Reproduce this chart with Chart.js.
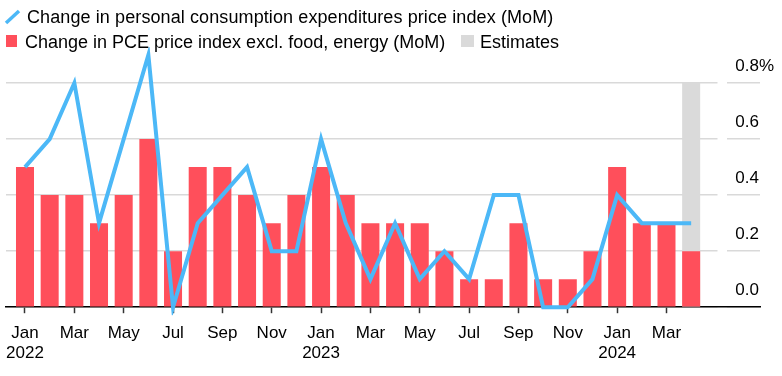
<!DOCTYPE html>
<html><head><meta charset="utf-8">
<script src="https://cdn.jsdelivr.net/npm/chart.js@4.4.1/dist/chart.umd.min.js"></script>
<style>
html,body{margin:0;padding:0;background:#fff;}
#wrap{position:relative;width:782px;height:376px;font-family:"Liberation Sans",Arial,sans-serif;color:#000;overflow:hidden;}
#c{position:absolute;left:0;top:0;}
.lg{position:absolute;font-size:18px;line-height:20px;white-space:nowrap;}
.sw{position:absolute;}
</style></head><body>
<div id="wrap">
<canvas id="c" width="782" height="376"></canvas>
<svg class="sw" style="left:4px;top:9px" width="18" height="16"><line x1="2" y1="14" x2="15" y2="2" stroke="#4cb8f7" stroke-width="3.5"/></svg>
<div class="lg" style="left:27px;top:7px;letter-spacing:0.1px">Change in personal consumption expenditures price index (MoM)</div>
<div class="sw" style="left:6px;top:35px;width:11px;height:12px;background:#ff4f5b"></div>
<div class="lg" style="left:25px;top:32px">Change in PCE price index excl. food, energy (MoM)</div>
<div class="sw" style="left:461px;top:35px;width:13px;height:12px;background:#dadada"></div>
<div class="lg" style="left:480px;top:32px">Estimates</div>
</div>
<script>
// ---- data ----
const categories = ['Jan 2022','Feb 2022','Mar 2022','Apr 2022','May 2022','Jun 2022','Jul 2022','Aug 2022','Sep 2022','Oct 2022','Nov 2022','Dec 2022',
  'Jan 2023','Feb 2023','Mar 2023','Apr 2023','May 2023','Jun 2023','Jul 2023','Aug 2023','Sep 2023','Oct 2023','Nov 2023','Dec 2023',
  'Jan 2024','Feb 2024','Mar 2024','Apr 2024'];
const headlinePCE = [0.5,0.6,0.8,0.3,0.6,0.9,0.0,0.3,0.4,0.5,0.2,0.2,
  0.6,0.3,0.1,0.3,0.1,0.2,0.1,0.4,0.4,0.0,0.0,0.1,
  0.4,0.3,0.3,0.3];
const corePCE = [0.5,0.4,0.4,0.3,0.4,0.6,0.2,0.5,0.5,0.4,0.3,0.4,
  0.5,0.4,0.3,0.3,0.3,0.2,0.1,0.1,0.3,0.1,0.1,0.2,
  0.5,0.3,0.3,0.2];
const estimates = [null,null,null,null,null,null,null,null,null,null,null,null,
  null,null,null,null,null,null,null,null,null,null,null,null,
  null,null,null,0.8];
const yTicks = [0, 0.2, 0.4, 0.6, 0.8];
const yTickLabels = ['0.0','0.2','0.4','0.6','0.8%'];
const xTickIndex = [0,2,4,6,8,10,12,14,16,18,20,22,24,26];

const BLUE = '#4cb8f7', RED = '#ff4f5b', GRAY = '#dadada';
const pts = arr => arr.map((v,i)=>({x:i, y:v}));
function xLabel(i){
  const [m, y] = categories[i].split(' ');
  return m === 'Jan' ? [m, y] : m;
}

Chart.defaults.font.family = '"Liberation Sans", Arial, sans-serif';
Chart.defaults.font.size = 17;
Chart.defaults.color = '#000';

new Chart(document.getElementById('c'), {
  data: {
    datasets: [
      {type:'line', label:'Change in personal consumption expenditures price index (MoM)', data: pts(headlinePCE),
        borderColor: BLUE, borderWidth: 4, pointRadius: 0, tension: 0, order: 0, clip: 8},
      {type:'bar', label:'Change in PCE price index excl. food, energy (MoM)', data: pts(corePCE),
        backgroundColor: RED, grouped:false, barPercentage: 0.73, categoryPercentage: 1, order: 1},
      {type:'bar', label:'Estimates', data: pts(estimates),
        backgroundColor: GRAY, grouped:false, barPercentage: 0.73, categoryPercentage: 1, order: 2}
    ]
  },
  options: {
    responsive: false,
    animation: false,
    events: [],
    layout: {padding: {left: 6, right: 22, top: 55, bottom: 2}},
    plugins: {legend: {display: false}, tooltip: {enabled: false}},
    scales: {
      x: {
        type: 'linear', min: -0.77, max: 29.79, offset: false,
        afterBuildTicks: s => { s.ticks = xTickIndex.map(v => ({value: v})); },
        afterFit: s => { s.paddingLeft = 0; s.paddingRight = 0; },
        ticks: {autoSkip: false, maxRotation: 0, padding: 10, font: {size: 17, lineHeight: 1.2},
          callback: v => xLabel(v)},
        grid: {offset: false, drawOnChartArea: false, drawTicks: true, tickLength: 6, tickColor: '#333', tickWidth: 1.5},
        border: {display: true, color: '#000', width: 1.5}
      },
      y: {
        position: 'right', min: 0, max: 0.9,
        afterBuildTicks: s => { s.ticks = yTicks.map(v => ({value: v})); },
        afterFit: s => { s.paddingTop = 0; s.paddingBottom = 0; s.width = 0; },
        ticks: {mirror: true, crossAlign: 'far', padding: 14, labelOffset: -17, font: {size: 17},
          callback: (v) => yTickLabels[yTicks.findIndex(t => Math.abs(t - v) < 1e-9)]},
        grid: {color: '#d9d9d9', lineWidth: 1.5, drawTicks: false},
        border: {display: false, dash: [711.5, 9.5]}
      }
    }
  }
});
</script>
</body></html>
